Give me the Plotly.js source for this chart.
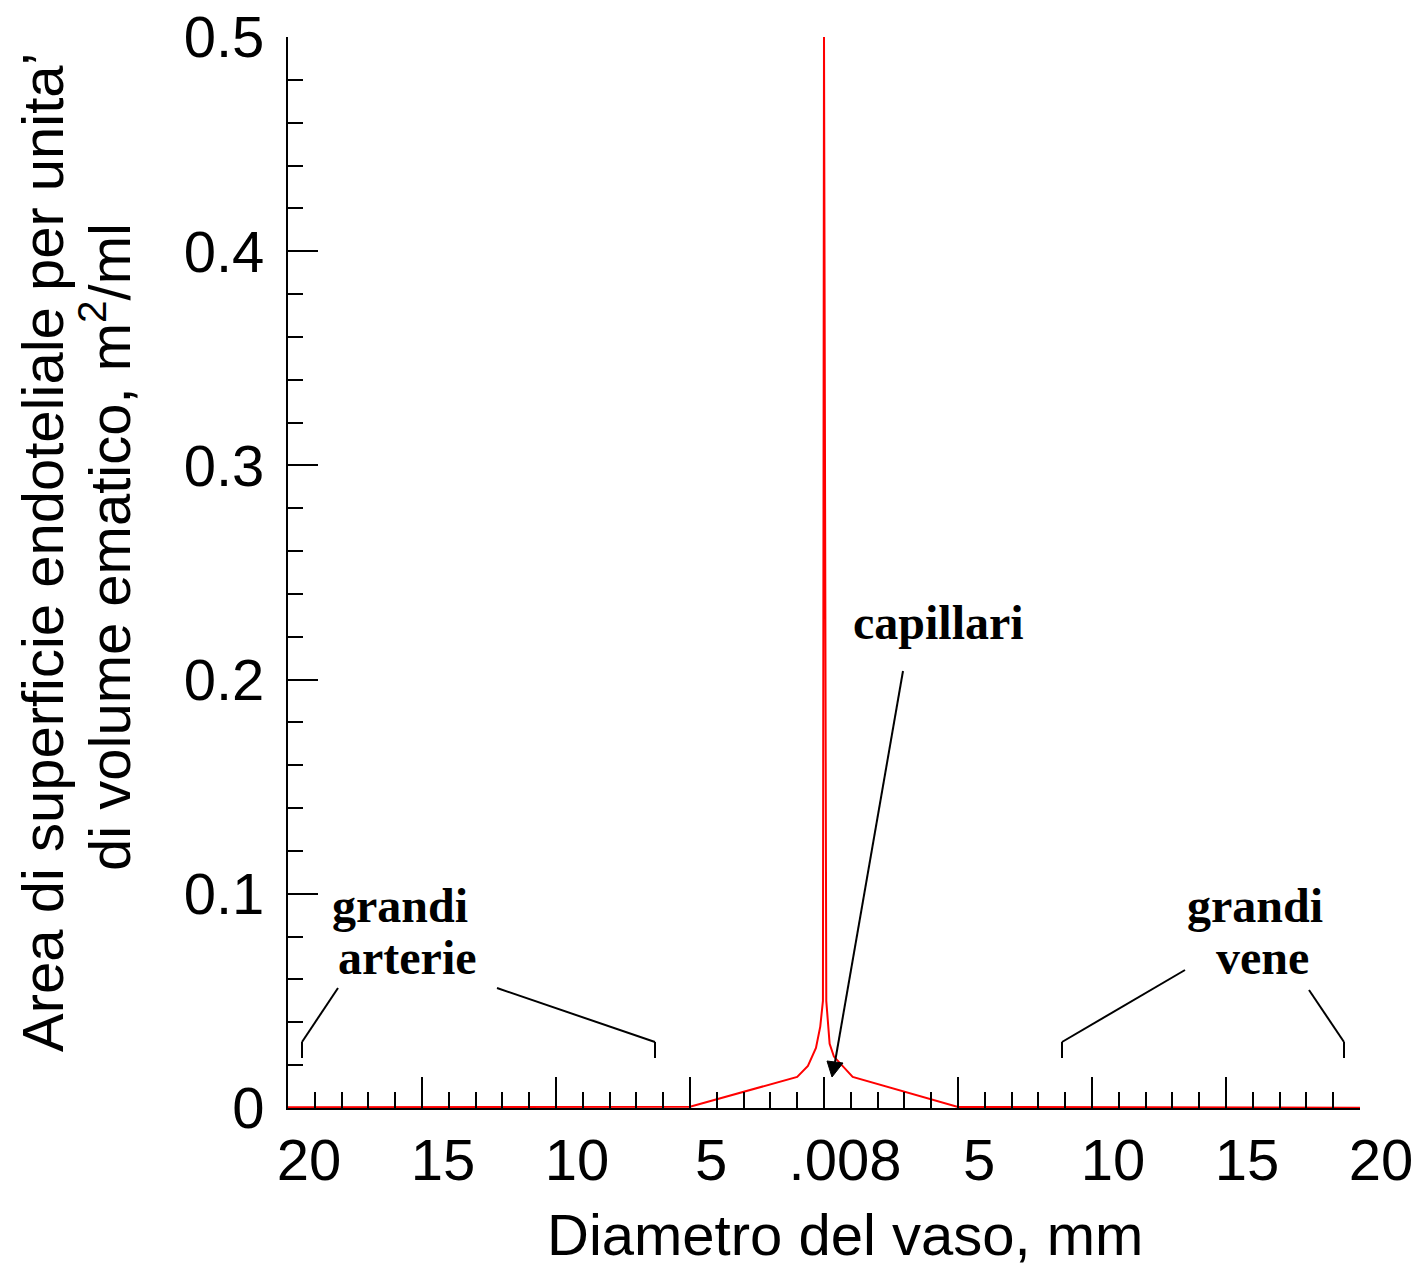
<!DOCTYPE html>
<html>
<head>
<meta charset="utf-8">
<script src="https://cdn.plot.ly/plotly-3.0.1.min.js"></script>
<style>
  html, body { margin: 0; padding: 0; background: #ffffff; }
  #chart { width: 1417px; height: 1267px; }
</style>
</head>
<body>
<div id="chart"></div>
<script>
// ---- data (x: position on symmetric diameter axis, negative = arterial side, 0 = capillaries) ----
const diameterPos = [-20, -15, -10, -5, -1.0, -0.6, -0.3, -0.14, -0.04, 0, 0.085, 0.21, 0.37, 1.07, 5, 10, 15, 20];
const surfacePerVolume = [0.0003, 0.0004, 0.0005, 0.0006, 0.0145, 0.0196, 0.028, 0.038, 0.05, 0.5, 0.05, 0.030, 0.024, 0.0145, 0.0005, 0.0003, 0.0002, 0.0001];

const xTickVals = [-20, -15, -10, -5, 0, 5, 10, 15, 20];
const xTickText = ["20", "15", "10", "5", ".008", "5", "10", "15", "20"];

const xTitle = "Diametro del vaso, mm";
const yTitleLine1 = "Area di superficie endoteliale per unita’";
const yTitleLine2 = "di volume ematico, m<sup>2</sup>/ml";

const labelArterie = ["grandi", "arterie"];
const labelVene = ["grandi", "vene"];
const labelCapillari = "capillari";

// ---- layout geometry (pixels) ----
const W = 1417, H = 1267;
const L = 288, R = 1360, T = 37, B = 1108;
const px = (x) => (x - L) / (R - L);
const py = (y) => (B - y) / (B - T);

const sansFont = "Arial, 'Liberation Sans', sans-serif";
const serifFont = "'Times New Roman', 'Liberation Serif', serif";

const trace = {
  x: diameterPos,
  y: surfacePerVolume,
  type: 'scatter',
  mode: 'lines',
  line: { color: '#ff0000', width: 2 },
  hoverinfo: 'skip',
  showlegend: false,
  cliponaxis: false
};

function textAnn(text, xPix, yPix, size, family, angle) {
  return {
    xref: 'paper', yref: 'paper',
    x: px(xPix), y: py(yPix),
    xanchor: 'center', yanchor: 'middle',
    text: text, showarrow: false,
    textangle: angle || 0,
    font: { family: family, size: size, color: '#000000' }
  };
}

const annotations = [
  textAnn(xTitle, 845, 1234, 58, sansFont),
  textAnn(yTitleLine1, 42, 552, 58, sansFont, -90),
  textAnn(yTitleLine2, 105, 547, 58, sansFont, -90),
  textAnn('<b>' + labelArterie[0] + '</b>', 400, 905, 48, serifFont),
  textAnn('<b>' + labelArterie[1] + '</b>', 407, 957, 48, serifFont),
  textAnn('<b>' + labelVene[0] + '</b>', 1255, 905, 48, serifFont),
  textAnn('<b>' + labelVene[1] + '</b>', 1262, 957, 48, serifFont),
  textAnn('<b>' + labelCapillari + '</b>', 938, 622, 48, serifFont)
];

function seg(x0, y0, x1, y1) {
  return {
    type: 'line', xref: 'paper', yref: 'paper',
    x0: px(x0), y0: py(y0), x1: px(x1), y1: py(y1),
    line: { color: '#000000', width: 2 }
  };
}

function tri(p1, p2, p3) {
  const pt = (p) => px(p[0]) + ',' + py(p[1]);
  return {
    type: 'path', xref: 'paper', yref: 'paper',
    path: 'M' + pt(p1) + ' L' + pt(p2) + ' L' + pt(p3) + ' Z',
    fillcolor: '#000000',
    line: { color: '#000000', width: 1 }
  };
}

const shapes = [
  // grandi arterie bracket
  seg(302, 1058, 302, 1042), seg(302, 1042, 338, 988),
  seg(655, 1058, 655, 1042), seg(655, 1042, 497, 988),
  // grandi vene bracket
  seg(1062, 1058, 1062, 1042), seg(1062, 1042, 1185, 970),
  seg(1344, 1058, 1344, 1042), seg(1344, 1042, 1309, 990),
  // capillari arrow
  seg(903, 671, 835, 1062),
  tri([832, 1077], [827, 1061], [843, 1063])
];

const layout = {
  width: W, height: H,
  margin: { l: L, r: W - R, t: T, b: H - B, pad: 0 },
  paper_bgcolor: '#ffffff',
  plot_bgcolor: '#ffffff',
  showlegend: false,
  xaxis: {
    range: [-20, 20],
    tickmode: 'array',
    tickvals: xTickVals,
    ticktext: xTickText,
    ticks: 'inside', ticklen: 31, tickwidth: 2, tickcolor: '#000000',
    minor: { tickmode: 'linear', tick0: 0, dtick: 1, ticks: 'inside', ticklen: 16, tickwidth: 2, tickcolor: '#000000', showgrid: false },
    showline: true, linecolor: '#000000', linewidth: 2,
    showgrid: false, zeroline: false,
    ticklabelstandoff: 0,
    ticklabelshift: 21,
    tickfont: { family: sansFont, size: 58, color: '#000000' },
    fixedrange: true
  },
  yaxis: {
    range: [0, 0.5],
    tickmode: 'linear', tick0: 0, dtick: 0.1,
    ticks: 'inside', ticklen: 30, tickwidth: 2, tickcolor: '#000000',
    minor: { tickmode: 'linear', tick0: 0, dtick: 0.02, ticks: 'inside', ticklen: 15, tickwidth: 2, tickcolor: '#000000', showgrid: false },
    showline: true, linecolor: '#000000', linewidth: 2,
    showgrid: false, zeroline: false,
    ticklabelstandoff: 10,
    tickfont: { family: sansFont, size: 58, color: '#000000' },
    fixedrange: true
  },
  annotations: annotations,
  shapes: shapes
};

Plotly.newPlot('chart', [trace], layout, { displayModeBar: false, staticPlot: true });
</script>
</body>
</html>
